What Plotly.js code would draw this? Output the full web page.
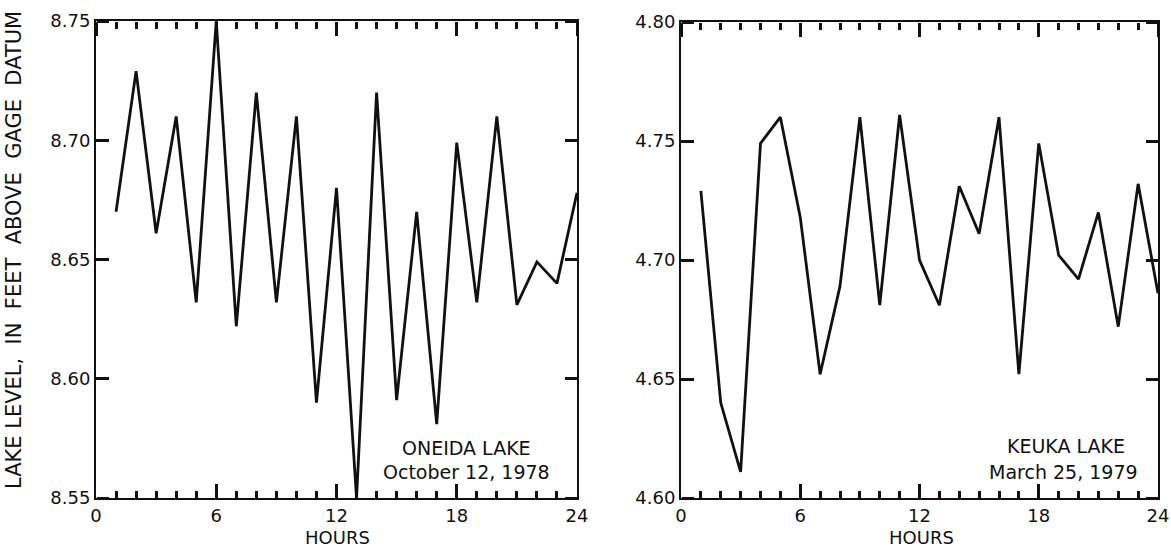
<!DOCTYPE html>
<html>
<head>
<meta charset="utf-8">
<script src="https://cdn.plot.ly/plotly-3.0.1.min.js"></script>
<style>
html,body{margin:0;padding:0;background:#fff;}
#wrap{position:relative;width:1171px;height:546px;}
#left{position:absolute;left:0;top:0;width:620px;height:546px;}
#right{position:absolute;left:620px;top:0;width:551px;height:546px;}
</style>
</head>
<body>
<div id="wrap"><div id="left"></div><div id="right"></div></div>
<script>
// Data
const hours = [1,2,3,4,5,6,7,8,9,10,11,12,13,14,15,16,17,18,19,20,21,22,23,24];
const oneidaLevel = [8.670,8.729,8.661,8.710,8.632,8.750,8.622,8.720,8.632,8.710,8.590,8.680,8.550,8.720,8.591,8.670,8.581,8.699,8.632,8.710,8.631,8.649,8.640,8.678];
const keukaLevel = [4.729,4.640,4.611,4.749,4.760,4.718,4.652,4.689,4.760,4.681,4.761,4.700,4.681,4.731,4.711,4.760,4.652,4.749,4.702,4.692,4.720,4.672,4.732,4.686];
const oneidaTicks = [8.55,8.60,8.65,8.70,8.75];
const keukaTicks = [4.60,4.65,4.70,4.75,4.80];
const yTitle = "LAKE LEVEL,  IN  FEET  ABOVE  GAGE  DATUM";
const xTitle = "HOURS";
const oneidaLabel = ["ONEIDA LAKE", "October 12, 1978"];
const keukaLabel = ["KEUKA LAKE", "March 25, 1979"];

const FONT = "DejaVu Sans, Liberation Sans, Arial, sans-serif";
const INK = "#111";
const H = 546;

function buildChart(divId, W, xd, yd, levels, yTicks, extraAnn){
  const yr = [yTicks[0], yTicks[yTicks.length-1]];
  const traces = [
    {x: hours, y: levels, type:"scatter", mode:"lines", line:{color:INK, width:2.8}, xaxis:"x", yaxis:"y"},
    // invisible carriers so the tick-only overlay axes are drawn
    {x: hours, y: levels, type:"scatter", mode:"lines", line:{width:0}, opacity:0, xaxis:"x3", yaxis:"y3", hoverinfo:"skip"},
    {x: hours, y: levels, type:"scatter", mode:"lines", line:{width:0}, opacity:0, xaxis:"x", yaxis:"y4", hoverinfo:"skip"}
  ];
  const labelFont = {family:FONT, size:19, color:INK};
  const layout = {
    width:W, height:H, margin:{l:0, r:0, t:0, b:0}, showlegend:false,
    paper_bgcolor:"#fff", plot_bgcolor:"rgba(0,0,0,0)",
    xaxis:{domain:xd, anchor:"y", range:[0,24], tickmode:"linear", tick0:0, dtick:6,
      ticks:"inside", ticklen:14, tickwidth:2.5, tickcolor:INK,
      minor:{dtick:1, ticks:"inside", ticklen:7, tickwidth:2.5, tickcolor:INK},
      showline:true, linecolor:INK, linewidth:2, mirror:true, showgrid:false, zeroline:false,
      tickfont:{family:FONT, size:18, color:INK}},
    yaxis:{domain:yd, anchor:"x", range:yr, tickmode:"linear", tick0:yr[0], dtick:0.05, tickformat:".2f",
      ticks:"inside", ticklen:12, tickwidth:2.5, tickcolor:INK,
      showline:true, linecolor:INK, linewidth:2, mirror:true, showgrid:false, zeroline:false,
      tickfont:{family:FONT, size:18, color:INK}},
    // ticks along the top edge, pointing down
    xaxis3:{overlaying:"x", anchor:"free", position:yd[1], side:"bottom", range:[0,24], tickmode:"linear", tick0:0, dtick:6,
      ticks:"outside", ticklen:14, tickwidth:2.5, tickcolor:INK,
      minor:{dtick:1, ticks:"outside", ticklen:7, tickwidth:2.5, tickcolor:INK},
      showticklabels:false, showline:false, showgrid:false, zeroline:false},
    // ticks along the left edge, pointing right
    yaxis3:{overlaying:"y", anchor:"free", position:xd[0], side:"right", range:yr, tickmode:"linear", tick0:yr[0], dtick:0.05,
      ticks:"outside", ticklen:12, tickwidth:2.5, tickcolor:INK,
      showticklabels:false, showline:false, showgrid:false, zeroline:false},
    // ticks along the right edge, pointing left
    yaxis4:{overlaying:"y", anchor:"free", position:xd[1], side:"left", range:yr, tickmode:"linear", tick0:yr[0], dtick:0.05,
      ticks:"outside", ticklen:12, tickwidth:2.5, tickcolor:INK,
      showticklabels:false, showline:false, showgrid:false, zeroline:false},
    annotations: extraAnn.map(a => Object.assign({showarrow:false, xanchor:"center", yanchor:"middle", font:labelFont}, a))
  };
  return Plotly.newPlot(divId, traces, layout, {displayModeBar:false});
}

const hoursFont = {family:FONT, size:18, color:INK};
buildChart("left", 620, [96/620, 577/620], [1-498/H, 1-21/H], oneidaLevel, oneidaTicks, [
  {text: yTitle, xref:"paper", yref:"paper", x:14/620, y:1-250/H, textangle:-90, font:{family:FONT, size:21, color:INK}},
  {text: xTitle, xref:"paper", yref:"paper", x:337/620, y:1-537/H, font:hoursFont},
  {text: oneidaLabel[0], xref:"x", yref:"y", x:18.5, y:8.571},
  {text: oneidaLabel[1], xref:"x", yref:"y", x:18.5, y:8.561}
]);
buildChart("right", 551, [61/551, 538/551], [1-498/H, 1-22/H], keukaLevel, keukaTicks, [
  {text: xTitle, xref:"paper", yref:"paper", x:301/551, y:1-537/H, font:hoursFont},
  {text: keukaLabel[0], xref:"x", yref:"y", x:19.37, y:4.622},
  {text: keukaLabel[1], xref:"x", yref:"y", x:19.27, y:4.611}
]);
</script>
</body>
</html>
